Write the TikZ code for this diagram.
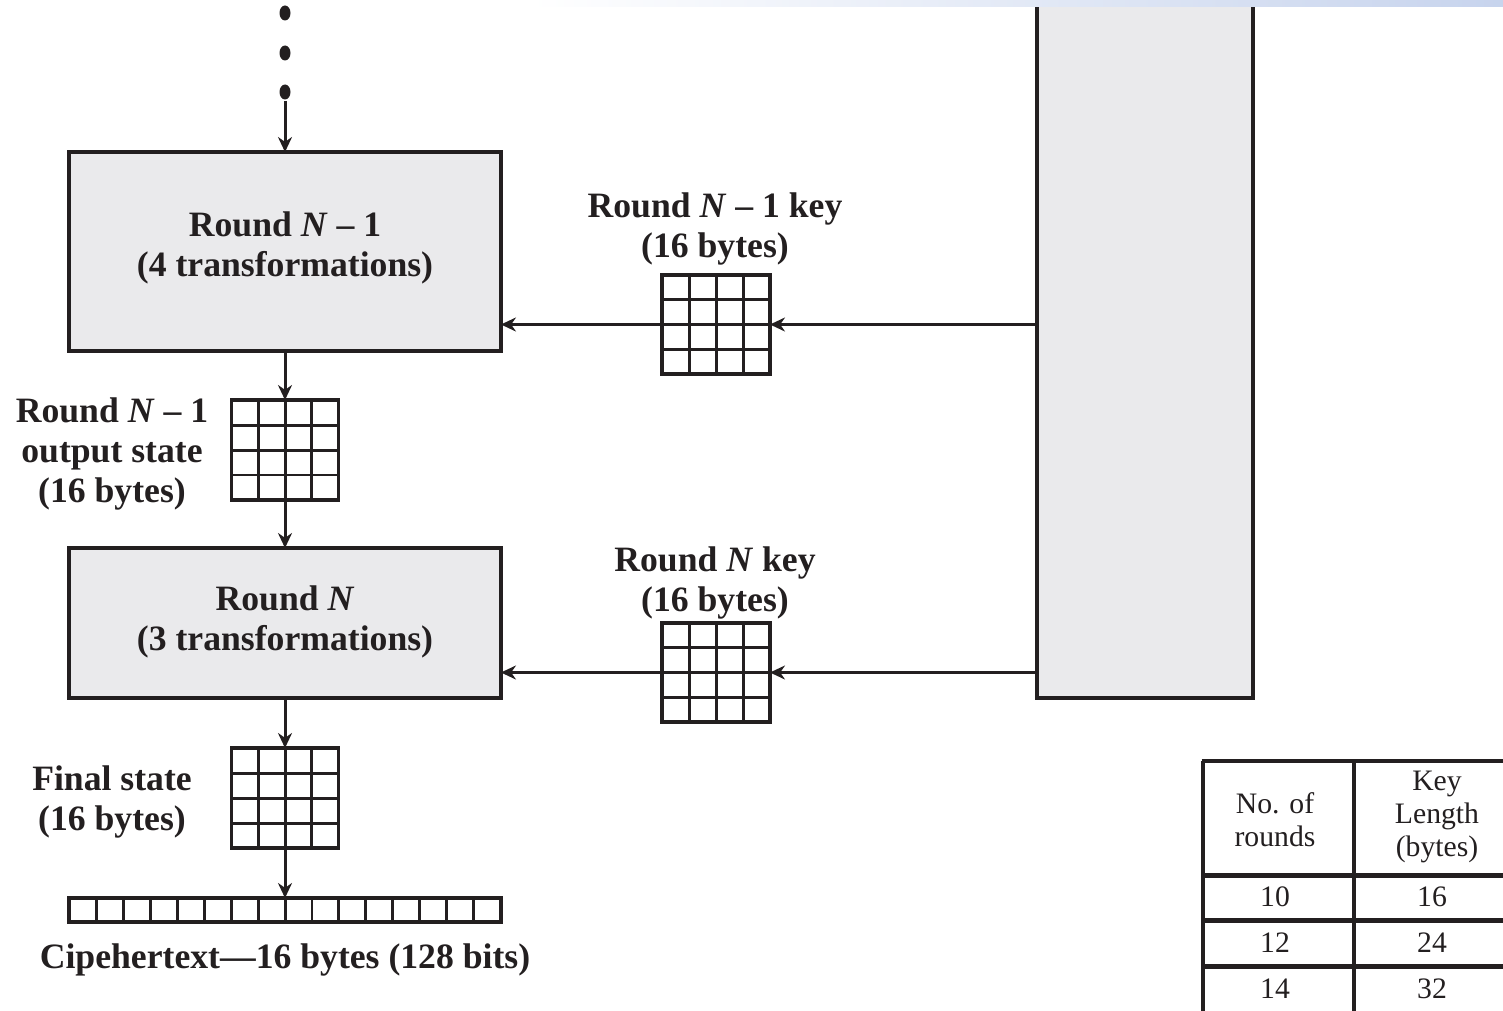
\documentclass[tikz,border=0pt]{standalone}
\usepackage{fontspec}
\setmainfont{Liberation Serif}
\usetikzlibrary{arrows.meta,calc}
\definecolor{boxgray}{HTML}{EAEAEC}
\definecolor{ink}{HTML}{231F20}
\definecolor{stripmid}{rgb}{0.82,0.87,0.95}
\definecolor{stripend}{rgb}{0.78,0.83,0.93}
\begin{document}
\begin{tikzpicture}[x=0.02cm, y=-0.02cm,
  lbl/.style={font=\bfseries\fontsize{20.3}{23}\selectfont, align=center, text=ink, inner sep=0},
  tbl/.style={font=\fontsize{16.9}{18.7}\selectfont, align=center, text=ink, inner sep=0},
  roundbox/.style={draw=ink, line width=0.065cm, fill=boxgray, inner sep=0, outer sep=0, minimum width=8.64cm},
  cellgrid/.style={draw=ink, line width=0.065cm, inner sep=0, outer sep=0, minimum width=2.14cm, minimum height=2.0cm,
    path picture={
      \foreach \i in {1,2,3}{
        \draw[ink, line width=0.06cm] ($(path picture bounding box.north west)!\i/4!(path picture bounding box.north east)$) -- ($(path picture bounding box.south west)!\i/4!(path picture bounding box.south east)$);
        \draw[ink, line width=0.06cm] ($(path picture bounding box.north west)!\i/4!(path picture bounding box.south west)$) -- ($(path picture bounding box.north east)!\i/4!(path picture bounding box.south east)$);
      }}},
  cellstrip/.style={draw=ink, line width=0.065cm, inner sep=0, outer sep=0, minimum width=8.64cm, minimum height=0.48cm,
    path picture={
      \foreach \i in {1,...,15}{
        \draw[ink, line width=0.06cm] ($(path picture bounding box.north west)!\i/16!(path picture bounding box.north east)$) -- ($(path picture bounding box.south west)!\i/16!(path picture bounding box.south east)$);
      }}},
  conn/.style={draw=ink, line width=0.06cm, -{Stealth[length=0.3cm,width=0.28cm]}},
  tline/.style={draw=ink, line width=0.065cm},
  tsep/.style={draw=ink, line width=0.1cm}
]
\useasboundingbox (0,0) rectangle (1503,1010);
\clip (0,0) rectangle (1503,1010);

% key schedule column
\node[draw=ink, line width=0.065cm, fill=boxgray, inner sep=0, outer sep=0,
      minimum width=4.32cm, minimum height=14.36cm] (keycol) at (1145,339) {};
\shade[left color=white, middle color=stripmid, right color=stripend] (530,0) rectangle (1503,6.5);

% dots
\fill[ink] (285,13) ellipse [x radius=0.11cm, y radius=0.15cm];
\fill[ink] (285,53) ellipse [x radius=0.11cm, y radius=0.15cm];
\fill[ink] (285,92) ellipse [x radius=0.11cm, y radius=0.15cm];
\coordinate (dotend) at (285,101);

% rounds
\node[roundbox, minimum height=3.98cm] (box1) at (285,251.5) {};
\node[roundbox, minimum height=3.0cm] (box2) at (285,623) {};
\node[lbl] (box1txt) at (285,248) {Round \textit{N} – 1\\(4 transformations)};
\node[lbl] (box2txt) at (285,622) {Round \textit{N}\\(3 transformations)};

% states
\node[cellgrid] (g1) at (285,450) {};
\node[cellgrid] (g3) at (285,798) {};
\node[cellstrip] (cipher) at (285,910) {};
\node[lbl] (g1txt) at (112,454) {Round \textit{N} – 1\\output state\\(16 bytes)};
\node[lbl] (g3txt) at (112,802) {Final state\\(16 bytes)};
\node[lbl] (ciphertxt) at (285,960) {Cipehertext—16 bytes (128 bits)};

% keys
\node[cellgrid, minimum width=2.16cm, minimum height=1.98cm] (k1) at (716,324.5) {};
\node[cellgrid, minimum width=2.16cm, minimum height=1.98cm] (k2) at (716,672.5) {};
\node[lbl] (k1txt) at (715,229) {Round \textit{N} – 1 key\\(16 bytes)};
\node[lbl] (k2txt) at (715,583) {Round \textit{N} key\\(16 bytes)};

% connectors
\draw[conn] (dotend) -- (box1.north);
\draw[conn] (box1.south) -- (g1.north);
\draw[conn] (g1.south) -- (box2.north);
\draw[conn] (box2.south) -- (g3.north);
\draw[conn] (g3.south) -- (cipher.north);
\draw[conn] (keycol.west |- k1.east) -- (k1.east);
\draw[conn] (k1.west) -- (k1.west -| box1.east);
\draw[conn] (keycol.west |- k2.east) -- (k2.east);
\draw[conn] (k2.west) -- (k2.west -| box2.east);

% table
\draw[tline] (1203,761) -- (1203,1020);
\draw[tline] (1354,761) -- (1354,1020);
\draw[tline] (1201.5,761) -- (1520,761);
\draw[tsep] (1201.5,875) -- (1520,875);
\draw[tsep] (1201.5,920) -- (1520,920);
\draw[tsep] (1201.5,966) -- (1520,966);
\node[tbl] (h1) at (1275,820) {No. of\\rounds};
\node[tbl] (h2) at (1437,817) {Key\\Length\\(bytes)};
\node[tbl] (r1a) at (1275,897) {10};
\node[tbl] (r1b) at (1432,897) {16};
\node[tbl] (r2a) at (1275,943) {12};
\node[tbl] (r2b) at (1432,943) {24};
\node[tbl] (r3a) at (1275,989) {14};
\node[tbl] (r3b) at (1432,989) {32};
\end{tikzpicture}
\end{document}
